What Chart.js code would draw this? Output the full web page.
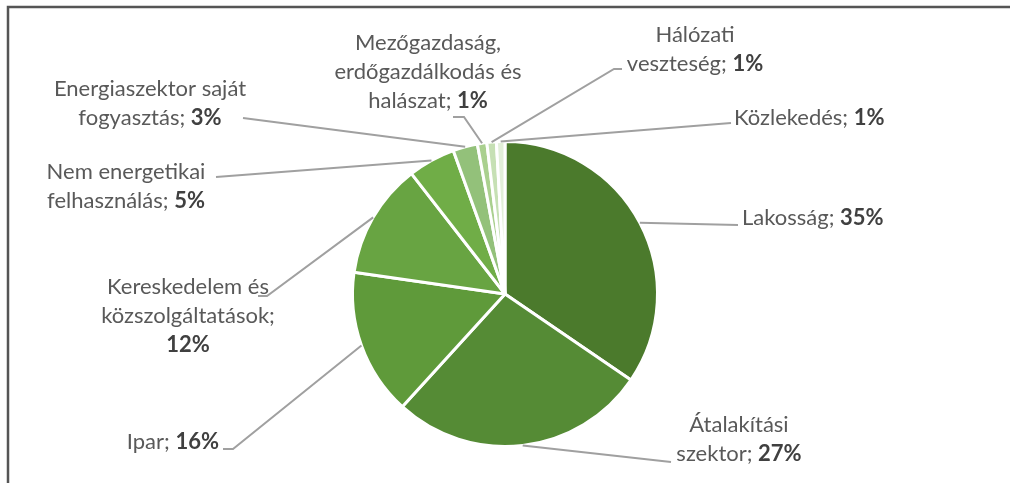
<!DOCTYPE html>
<html>
<head>
<meta charset="utf-8">
<script src="https://cdn.jsdelivr.net/npm/chart.js@4"></script>
<style>
  html, body { margin: 0; padding: 0; background: #fff; }
  #wrap { position: relative; width: 1010px; height: 483px; }
</style>
</head>
<body>
<div id="wrap"><canvas id="pieChart" width="1010" height="483"></canvas></div>
<script>
// sector shares (labels show rounded values)
const categories = ['Lakosság', 'Átalakítási szektor', 'Ipar', 'Kereskedelem és közszolgáltatások',
    'Nem energetikai felhasználás', 'Energiaszektor saját fogyasztás',
    'Mezőgazdaság, erdőgazdálkodás és halászat', 'Hálózati veszteség', 'Közlekedés'];
const shares = [34.5, 27.2, 15.5, 12.2, 5.0, 2.6, 1.0, 1.0, 0.9];
const percentLabels = ['35%', '27%', '16%', '12%', '5%', '3%', '1%', '1%', '1%'];
const labelLines = [
    ['Lakosság; '],
    ['Átalakítási', 'szektor; '],
    ['Ipar; '],
    ['Kereskedelem és', 'közszolgáltatások;', ''],
    ['Nem energetikai', 'felhasználás; '],
    ['Energiaszektor saját', 'fogyasztás; '],
    ['Mezőgazdaság,', 'erdőgazdálkodás és', 'halászat; '],
    ['Hálózati', 'veszteség; '],
    ['Közlekedés; ']
];
const colors = ['#4b7a2c', '#558b35', '#5f9a3a', '#68a442', '#70ad47', '#93c17a', '#aad08f', '#c6e0b4', '#e2efd9'];

// label placement: x, first line y, align, leader path (text end first)
const labelPos = [
    { x: 742, y: 218, align: 'left', path: [[738, 225]] },
    { x: 739, y: 425, align: 'center', path: [[671, 462]] },
    { x: 219, y: 442, align: 'right', path: [[223, 449], [233, 449]] },
    { x: 188, y: 287, align: 'center', path: [[258, 296], [267, 296]] },
    { x: 126, y: 172, align: 'center', path: [[216, 177]] },
    { x: 150, y: 89, align: 'center', path: [[243, 118]] },
    { x: 428, y: 43, align: 'center', path: [[453, 117], [464, 117]] },
    { x: 695, y: 35, align: 'center', path: [[622, 69], [614, 69]] },
    { x: 734, y: 118, align: 'left', path: [[731, 123]] }
];
const lineGap = 29;
const fontFamily = 'Lato, "Open Sans", sans-serif';
const fontSize = 22;

const labelPlugin = {
    id: 'pieLabels',
    afterDraw(chart) {
        const ctx = chart.ctx;
        const arcs = chart.getDatasetMeta(0).data;
        ctx.save();
        // frame lines (top and left only)
        ctx.strokeStyle = '#555555';
        ctx.lineWidth = 2.5;
        ctx.beginPath();
        ctx.moveTo(8, 483);
        ctx.lineTo(8, 7);
        ctx.lineTo(1010, 7);
        ctx.stroke();

        arcs.forEach((arc, i) => {
            const p = arc.getProps(['x', 'y', 'startAngle', 'endAngle', 'outerRadius'], true);
            const mid = (p.startAngle + p.endAngle) / 2;
            const ex = p.x + Math.cos(mid) * p.outerRadius;
            const ey = p.y + Math.sin(mid) * p.outerRadius;
            const pos = labelPos[i];
            ctx.strokeStyle = '#a0a0a0';
            ctx.lineWidth = 2;
            ctx.beginPath();
            ctx.moveTo(pos.path[0][0], pos.path[0][1]);
            for (let k = 1; k < pos.path.length; k++) ctx.lineTo(pos.path[k][0], pos.path[k][1]);
            ctx.lineTo(ex, ey);
            ctx.stroke();

            const lines = labelLines[i];
            ctx.textBaseline = 'middle';
            lines.forEach((txt, j) => {
                const last = j === lines.length - 1;
                const y = pos.y + j * lineGap;
                ctx.font = fontSize + 'px ' + fontFamily;
                const w1 = ctx.measureText(txt).width;
                ctx.font = 'bold ' + fontSize + 'px ' + fontFamily;
                const w2 = last ? ctx.measureText(percentLabels[i]).width : 0;
                const total = w1 + w2;
                let x0 = pos.x;
                if (pos.align === 'center') x0 = pos.x - total / 2;
                if (pos.align === 'right') x0 = pos.x - total;
                ctx.textAlign = 'left';
                ctx.font = fontSize + 'px ' + fontFamily;
                ctx.fillStyle = '#595959';
                ctx.fillText(txt, x0, y);
                if (last) {
                    ctx.font = 'bold ' + fontSize + 'px ' + fontFamily;
                    ctx.fillStyle = '#404040';
                    ctx.fillText(percentLabels[i], x0 + w1, y);
                }
            });
        });
        ctx.restore();
    }
};

new Chart(document.getElementById('pieChart'), {
    type: 'pie',
    data: {
        labels: categories,
        datasets: [{
            data: shares,
            backgroundColor: colors,
            borderColor: '#ffffff',
            borderWidth: 3
        }]
    },
    options: {
        responsive: false,
        animation: false,
        layout: { padding: { top: 140, bottom: 35, left: 0, right: 0 } },
        plugins: {
            legend: { display: false },
            tooltip: { enabled: false }
        }
    },
    plugins: [labelPlugin]
});
</script>
</body>
</html>
